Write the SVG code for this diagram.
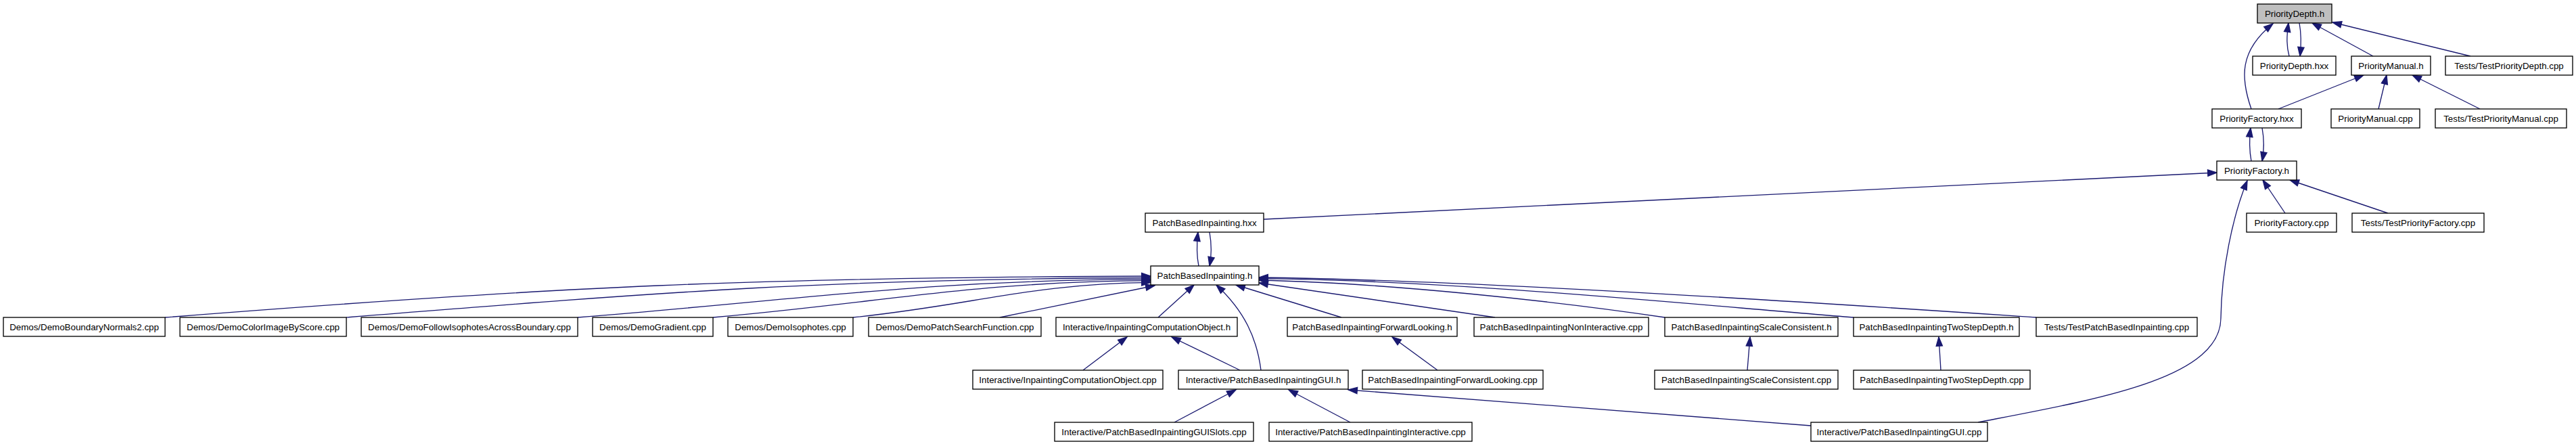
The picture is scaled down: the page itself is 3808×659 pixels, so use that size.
<svg xmlns="http://www.w3.org/2000/svg" width="3808" height="659" viewBox="0 0 3808 659">
<style>
.n rect{fill:#ffffff;stroke:#000000;stroke-width:1.33}
.n.root rect{fill:#bfbfbf}
.n text{font-family:"Liberation Sans",Arial,Helvetica,sans-serif;font-size:13.33px;fill:#000000;text-anchor:middle}
.e path{fill:none;stroke:#191970;stroke-width:1.33;marker-end:url(#arr)}
</style>
<defs>
<marker id="arr" markerUnits="userSpaceOnUse" markerWidth="16" markerHeight="12" refX="13.3" refY="4.67" orient="auto" overflow="visible">
<path d="M0,0 L13.3,4.67 L0,9.33 Z" fill="#191970" stroke="#191970" stroke-width="1.33"/>
</marker>
</defs>
<rect x="0" y="0" width="3808" height="659" fill="#ffffff"/>
<g id="edges" class="e">
<path d="M3384,83 C3380,68 3380,55 3383,34"/>
<path d="M3399,34 C3402,50 3402,65 3400,83"/>
<path d="M3328,161 C3312,115 3310,75 3360,35"/>
<path d="M3508,83 L3418,34"/>
<path d="M3652,83 L3448,33"/>
<path d="M3368,161 L3494,111"/>
<path d="M3516,161 L3528,111"/>
<path d="M3666,161 L3566,111"/>
<path d="M3328,238 C3325,222 3325,205 3327,189"/>
<path d="M3344,189 C3347,205 3347,222 3344,238"/>
<path d="M1868,324 Q2600,285 3277,255"/>
<path d="M1772,393 C1769,378 1769,360 1771,343"/>
<path d="M1788,343 C1791,360 1791,378 1788,393"/>
<path d="M3378,315 L3345,266"/>
<path d="M3530,315 L3385,266"/>
<path d="M2924,624 C3100,590 3282,560 3283,470 C3284,400 3300,320 3322,267"/>
<path d="M2677,629 L1993,576"/>
<path d="M1601,547 L1666,498"/>
<path d="M1833,547 L1732,498"/>
<path d="M1864,547 C1858,500 1840,460 1798,421"/>
<path d="M2125,547 L2058,498"/>
<path d="M2583,547 L2587,498"/>
<path d="M2869,547 L2866,498"/>
<path d="M1736,624 L1827,576"/>
<path d="M1996,624 L1905,576"/>
<path d="M1712,469 L1765,421"/>
<path d="M1983,469 L1827,421"/>
<path d="M244,469 C827,423 1118,410 1701,408"/>
<path d="M512,469 C988,431 1225,412 1701,410.5"/>
<path d="M854,469 C1193,442 1362,414 1701,412.7"/>
<path d="M1054,469 C1313,446 1442,416 1701,414.7"/>
<path d="M1261,469 C1437,451 1525,419 1701,417.3"/>
<path d="M1478,469 L1707,422"/>
<path d="M2210,469 L1861,418"/>
<path d="M2461,469 C2300,445 2050,418 1861,414"/>
<path d="M2740,469 C2500,450 2150,414 1861,411.7"/>
<path d="M3010,469 C2800,455 2200,414 1861,410"/>
</g>
<g id="n1" class="n root"><rect x="3337" y="6" width="110" height="28"/><text x="3392" y="24.5">PriorityDepth.h</text></g>
<g id="n2" class="n"><rect x="3330" y="83" width="123" height="28"/><text x="3391.5" y="101.5">PriorityDepth.hxx</text></g>
<g id="n3" class="n"><rect x="3476" y="83" width="117" height="28"/><text x="3534.5" y="101.5">PriorityManual.h</text></g>
<g id="n4" class="n"><rect x="3615" y="83" width="188" height="28"/><text x="3709" y="101.5">Tests/TestPriorityDepth.cpp</text></g>
<g id="n5" class="n"><rect x="3270" y="161" width="132" height="28"/><text x="3336" y="179.5">PriorityFactory.hxx</text></g>
<g id="n6" class="n"><rect x="3446" y="161" width="131" height="28"/><text x="3511.5" y="179.5">PriorityManual.cpp</text></g>
<g id="n7" class="n"><rect x="3600" y="161" width="194" height="28"/><text x="3697" y="179.5">Tests/TestPriorityManual.cpp</text></g>
<g id="n8" class="n"><rect x="3277" y="238" width="118" height="28"/><text x="3336" y="256.5">PriorityFactory.h</text></g>
<g id="n9" class="n"><rect x="3321" y="315" width="133" height="28"/><text x="3387.5" y="333.5">PriorityFactory.cpp</text></g>
<g id="n10" class="n"><rect x="3477" y="315" width="195" height="28"/><text x="3574.5" y="333.5">Tests/TestPriorityFactory.cpp</text></g>
<g id="n11" class="n"><rect x="1693" y="315" width="175" height="28"/><text x="1780.5" y="333.5">PatchBasedInpainting.hxx</text></g>
<g id="n12" class="n"><rect x="1701" y="393" width="160" height="28"/><text x="1781" y="411.5">PatchBasedInpainting.h</text></g>
<g id="n13" class="n"><rect x="5" y="469" width="239" height="28"/><text x="124.5" y="487.5">Demos/DemoBoundaryNormals2.cpp</text></g>
<g id="n14" class="n"><rect x="266" y="469" width="246" height="28"/><text x="389" y="487.5">Demos/DemoColorImageByScore.cpp</text></g>
<g id="n15" class="n"><rect x="534" y="469" width="320" height="28"/><text x="694" y="487.5">Demos/DemoFollowIsophotesAcrossBoundary.cpp</text></g>
<g id="n16" class="n"><rect x="876" y="469" width="178" height="28"/><text x="965" y="487.5">Demos/DemoGradient.cpp</text></g>
<g id="n17" class="n"><rect x="1076" y="469" width="185" height="28"/><text x="1168.5" y="487.5">Demos/DemoIsophotes.cpp</text></g>
<g id="n18" class="n"><rect x="1284" y="469" width="255" height="28"/><text x="1411.5" y="487.5">Demos/DemoPatchSearchFunction.cpp</text></g>
<g id="n19" class="n"><rect x="1561" y="469" width="268" height="28"/><text x="1695" y="487.5">Interactive/InpaintingComputationObject.h</text></g>
<g id="n20" class="n"><rect x="1903" y="469" width="251" height="28"/><text x="2028.5" y="487.5">PatchBasedInpaintingForwardLooking.h</text></g>
<g id="n21" class="n"><rect x="2179" y="469" width="258" height="28"/><text x="2308" y="487.5">PatchBasedInpaintingNonInteractive.cpp</text></g>
<g id="n22" class="n"><rect x="2461" y="469" width="256" height="28"/><text x="2589" y="487.5">PatchBasedInpaintingScaleConsistent.h</text></g>
<g id="n23" class="n"><rect x="2740" y="469" width="245" height="28"/><text x="2862.5" y="487.5">PatchBasedInpaintingTwoStepDepth.h</text></g>
<g id="n24" class="n"><rect x="3010" y="469" width="238" height="28"/><text x="3129" y="487.5">Tests/TestPatchBasedInpainting.cpp</text></g>
<g id="n25" class="n"><rect x="1438" y="547" width="281" height="28"/><text x="1578.5" y="565.5">Interactive/InpaintingComputationObject.cpp</text></g>
<g id="n26" class="n"><rect x="1742" y="547" width="251" height="28"/><text x="1867.5" y="565.5">Interactive/PatchBasedInpaintingGUI.h</text></g>
<g id="n27" class="n"><rect x="2014" y="547" width="267" height="28"/><text x="2147.5" y="565.5">PatchBasedInpaintingForwardLooking.cpp</text></g>
<g id="n28" class="n"><rect x="2446" y="547" width="271" height="28"/><text x="2581.5" y="565.5">PatchBasedInpaintingScaleConsistent.cpp</text></g>
<g id="n29" class="n"><rect x="2740" y="547" width="261" height="28"/><text x="2870.5" y="565.5">PatchBasedInpaintingTwoStepDepth.cpp</text></g>
<g id="n30" class="n"><rect x="1559" y="624" width="294" height="28"/><text x="1706" y="642.5">Interactive/PatchBasedInpaintingGUISlots.cpp</text></g>
<g id="n31" class="n"><rect x="1876" y="624" width="300" height="28"/><text x="2026" y="642.5">Interactive/PatchBasedInpaintingInteractive.cpp</text></g>
<g id="n32" class="n"><rect x="2677" y="624" width="261" height="28"/><text x="2807.5" y="642.5">Interactive/PatchBasedInpaintingGUI.cpp</text></g>
</svg>
